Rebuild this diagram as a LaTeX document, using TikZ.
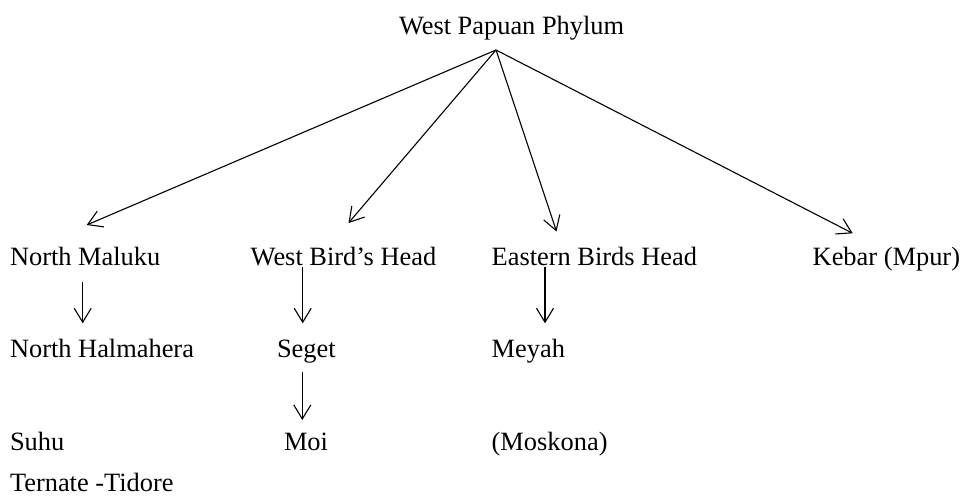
\documentclass[tikz,border=0pt]{standalone}
\usepackage{fontspec}
\setmainfont{Liberation Serif}
\usetikzlibrary{arrows.meta}
\tikzset{
  lbl/.style={anchor=base west, inner sep=0pt, outer sep=0pt,
    font=\fontsize{26.4}{30}\selectfont},
  arr/.style={line width=1.1pt, -{Straight Barb[length=14pt,width=17pt,line width=1.1pt]}}
}
\begin{document}
\begin{tikzpicture}[x=1pt,y=-1pt]
\useasboundingbox[fill=white] (0,0) rectangle (962,497);

% phylum and its four branches
\node[lbl] (top) at (399,35) {West Papuan Phylum};
\coordinate (apex) at ([shift={(97,15)}]top.base west);

\node[lbl] (nm) at (10,265.7) {North Maluku};
\node[lbl] (wb) at (250.7,265.7) {West Bird’s Head};
\node[lbl] (eb) at (491.7,265.7) {Eastern Birds Head};
\node[lbl] (kb) at (812.7,265.7) {Kebar (Mpur)};

% second level
\node[lbl] (nh) at (10,358) {North Halmahera};
\node[lbl] (sg) at (277,358) {Seget};
\node[lbl] (me) at (491.7,358) {Meyah};

% third level
\node[lbl] (su) at (10,450) {Suhu};
\node[lbl] (moi) at (284,450) {Moi};
\node[lbl] (mo) at (491.7,450) {(Moskona)};
\node[lbl] (tt) at (10,491) {Ternate -Tidore};

% fan-out from the phylum
\draw[arr] (apex) -- ([shift={(76.7,-40.7)}]nm.base west);
\draw[arr] (apex) -- ([shift={(97.8,-42.7)}]wb.base west);
\draw[arr] (apex) -- ([shift={(64.8,-34.2)}]eb.base west);
\draw[arr] (apex) -- ([shift={(40,-32.4)}]kb.base west);

% vertical descents
\draw[arr] ([shift={(72.7,16)}]nm.base west) -- ([shift={(72.7,-34.7)}]nh.base west);
\draw[arr] ([shift={(52,1)}]wb.base west) -- ([shift={(25.7,-34.7)}]sg.base west);
\draw[arr] ([shift={(25.3,13.7)}]sg.base west) -- ([shift={(18.3,-30)}]moi.base west);
\draw[arr] ([shift={(53.3,1)}]eb.base west) -- ([shift={(53.3,-34.7)}]me.base west);
\end{tikzpicture}
\end{document}
